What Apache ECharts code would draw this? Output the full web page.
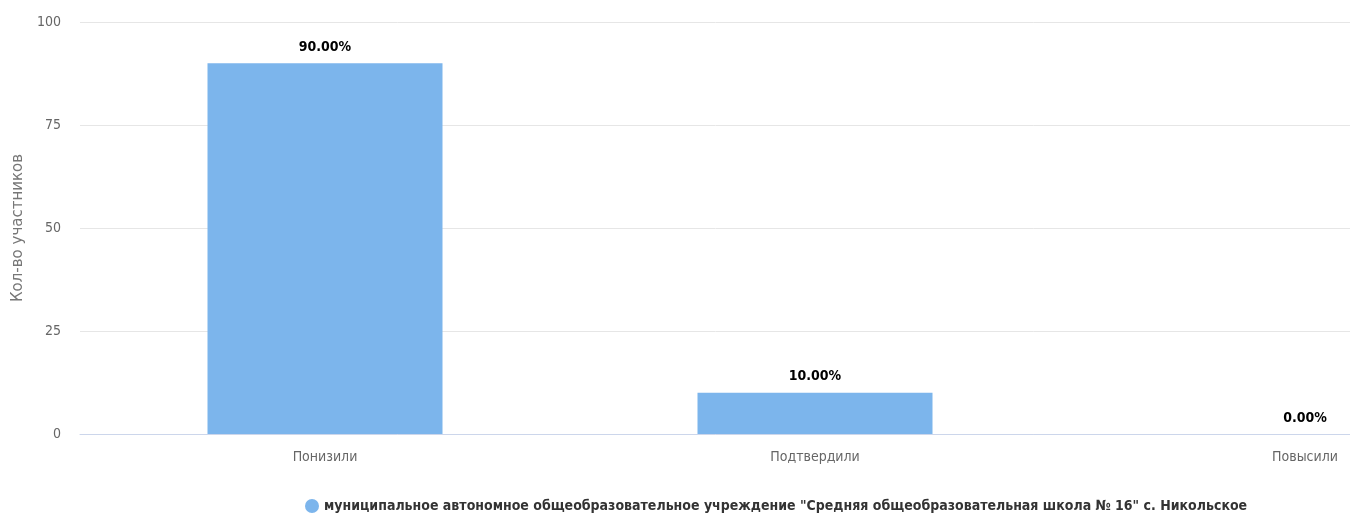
<!DOCTYPE html>
<html><head><meta charset="utf-8">
<script src="https://cdn.jsdelivr.net/npm/echarts@6/dist/echarts.min.js"></script>
<style>html,body{margin:0;padding:0;background:#fff;overflow:hidden}#c{width:1350px;height:517px}</style>
</head><body><div id="c"></div>
<script>
const categories = ["Понизили", "Подтвердили", "Повысили"];
const values = [90, 10, 0];
const percentLabels = ["90.00%", "10.00%", "0.00%"];
const yTicks = [0, 25, 50, 75, 100];
const seriesName = 'муниципальное автономное общеобразовательное учреждение "Средняя общеобразовательная школа № 16" с. Никольское';
const yAxisTitle = "Кол-во участников";

const FONT = '"Liberation Sans Narrow", "DejaVu Sans Condensed", "Liberation Sans", sans-serif';
const chart = echarts.init(document.getElementById('c'));
chart.setOption({
  animation: false,
  textStyle: { fontFamily: FONT },
  grid: { left: 80, width: 1470, top: 22, height: 412, containLabel: false, outerBoundsMode: 'none' },
  legend: {
    data: [seriesName],
    left: 300, top: 494,
    icon: 'circle', itemWidth: 14, itemHeight: 14, itemGap: 8,
    textStyle: { fontFamily: FONT, fontSize: 14, fontWeight: 'bold', color: '#333' }
  },
  xAxis: {
    type: 'category', data: categories,
    axisLine: { lineStyle: { color: '#ccd6eb' } },
    axisTick: { show: false },
    axisLabel: { color: '#666', fontSize: 14, margin: 16, fontFamily: FONT }
  },
  yAxis: {
    type: 'value', min: yTicks[0], max: yTicks[yTicks.length - 1], interval: 25,
    name: yAxisTitle, nameLocation: 'middle', nameGap: 53, nameRotate: 90,
    nameTextStyle: { color: '#777', fontSize: 15, fontFamily: '"DejaVu Sans", sans-serif' },
    axisLine: { show: false }, axisTick: { show: false },
    axisLabel: { color: '#666', fontSize: 14, margin: 19, fontFamily: FONT },
    splitLine: { lineStyle: { color: '#e6e6e6' } }
  },
  series: [{
    name: seriesName, type: 'bar', data: values, barWidth: 235,
    itemStyle: { color: '#7cb5ec' },
    label: {
      show: true, position: 'top', distance: 9,
      formatter: p => percentLabels[p.dataIndex],
      color: '#000', fontWeight: 'bold', fontSize: 14, fontFamily: FONT
    }
  }]
});
</script></body></html>
